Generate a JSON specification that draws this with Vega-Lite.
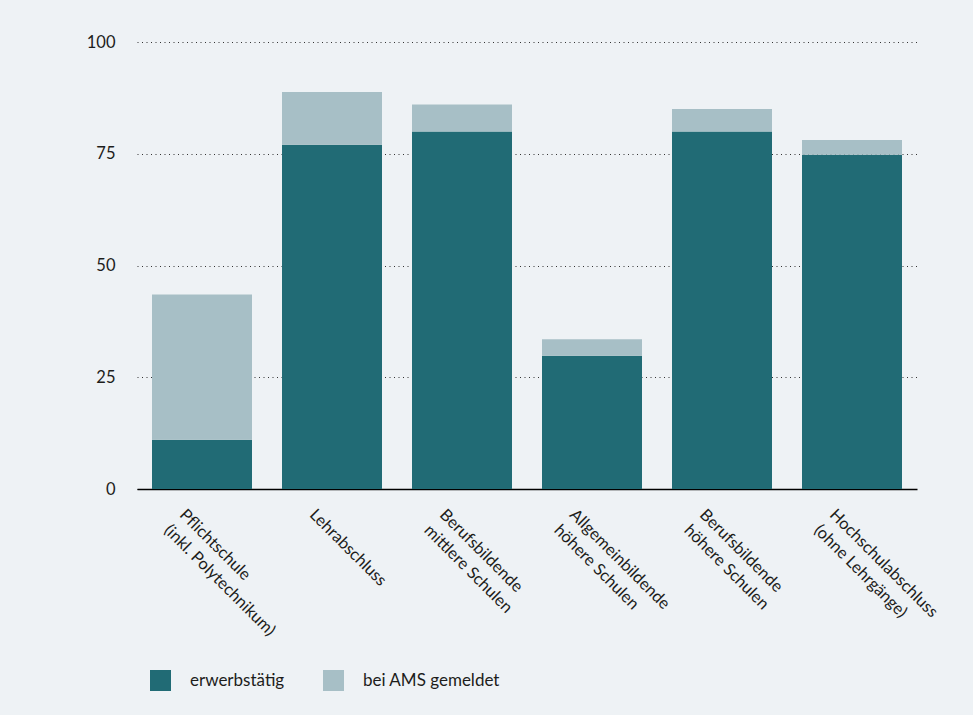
{
  "$schema": "https://vega.github.io/schema/vega-lite/v6.json",
  "width": 780,
  "height": 447,
  "autosize": {"type": "none"},
  "padding": {"left": 137, "top": 42, "right": 56, "bottom": 226},
  "background": "#EEF2F5",
  "data": {
    "values": [
      {"kategorie": "Pflichtschule|(inkl. Polytechnikum)", "serie": "erwerbstätig", "wert": 11},
      {"kategorie": "Pflichtschule|(inkl. Polytechnikum)", "serie": "bei AMS gemeldet", "wert": 32.5},
      {"kategorie": "Lehrabschluss", "serie": "erwerbstätig", "wert": 77},
      {"kategorie": "Lehrabschluss", "serie": "bei AMS gemeldet", "wert": 11.8},
      {"kategorie": "Berufsbildende|mittlere Schulen", "serie": "erwerbstätig", "wert": 80},
      {"kategorie": "Berufsbildende|mittlere Schulen", "serie": "bei AMS gemeldet", "wert": 6},
      {"kategorie": "Allgemeinbildende|höhere Schulen", "serie": "erwerbstätig", "wert": 29.8},
      {"kategorie": "Allgemeinbildende|höhere Schulen", "serie": "bei AMS gemeldet", "wert": 3.7},
      {"kategorie": "Berufsbildende|höhere Schulen", "serie": "erwerbstätig", "wert": 80},
      {"kategorie": "Berufsbildende|höhere Schulen", "serie": "bei AMS gemeldet", "wert": 5},
      {"kategorie": "Hochschulabschluss|(ohne Lehrgänge)", "serie": "erwerbstätig", "wert": 74.8},
      {"kategorie": "Hochschulabschluss|(ohne Lehrgänge)", "serie": "bei AMS gemeldet", "wert": 3.3}
    ]
  },
  "mark": {"type": "bar"},
  "encoding": {
    "x": {
      "field": "kategorie",
      "type": "nominal",
      "sort": null,
      "scale": {"paddingInner": 0.2308, "paddingOuter": 0.1154},
      "axis": {
        "title": null,
        "labelAngle": 45,
        "labelAlign": "left",
        "labelBaseline": "top",
        "labelPadding": 17,
        "labelOffset": -14,
        "labelExpr": "split(datum.label, '|')",
        "labelFontSize": 16.5,
        "labelLineHeight": 22,
        "ticks": false,
        "domain": true,
        "domainColor": "#000000",
        "domainWidth": 1.5,
        "grid": false
      }
    },
    "y": {
      "field": "wert",
      "type": "quantitative",
      "stack": "zero",
      "scale": {"domain": [0, 100], "nice": false},
      "axis": {
        "title": null,
        "values": [0, 25, 50, 75, 100],
        "ticks": false,
        "domain": false,
        "labelPadding": 22,
        "labelFontSize": 16.5,
        "grid": true,
        "gridColor": "#333333",
        "gridDash": [1, 3.5],
        "gridWidth": 1
      }
    },
    "color": {
      "field": "serie",
      "type": "nominal",
      "scale": {"domain": ["erwerbstätig", "bei AMS gemeldet"], "range": ["#216B75", "#A7BFC6"]},
      "legend": {
        "title": null,
        "orient": "none",
        "legendX": 13,
        "legendY": 628,
        "direction": "horizontal",
        "symbolType": "square",
        "symbolSize": 441,
        "symbolStrokeWidth": 0,
        "symbolOpacity": 1,
        "labelFontSize": 17,
        "labelOffset": 19,
        "columnPadding": 38,
        "padding": 0
      }
    },
    "order": {"field": "serie", "sort": "descending"}
  },
  "config": {
    "font": "Lato",
    "view": {"stroke": null},
    "axis": {"labelColor": "#1d1d1b", "labelFont": "Lato"},
    "legend": {"labelColor": "#1d1d1b", "labelFont": "Lato"}
  }
}
